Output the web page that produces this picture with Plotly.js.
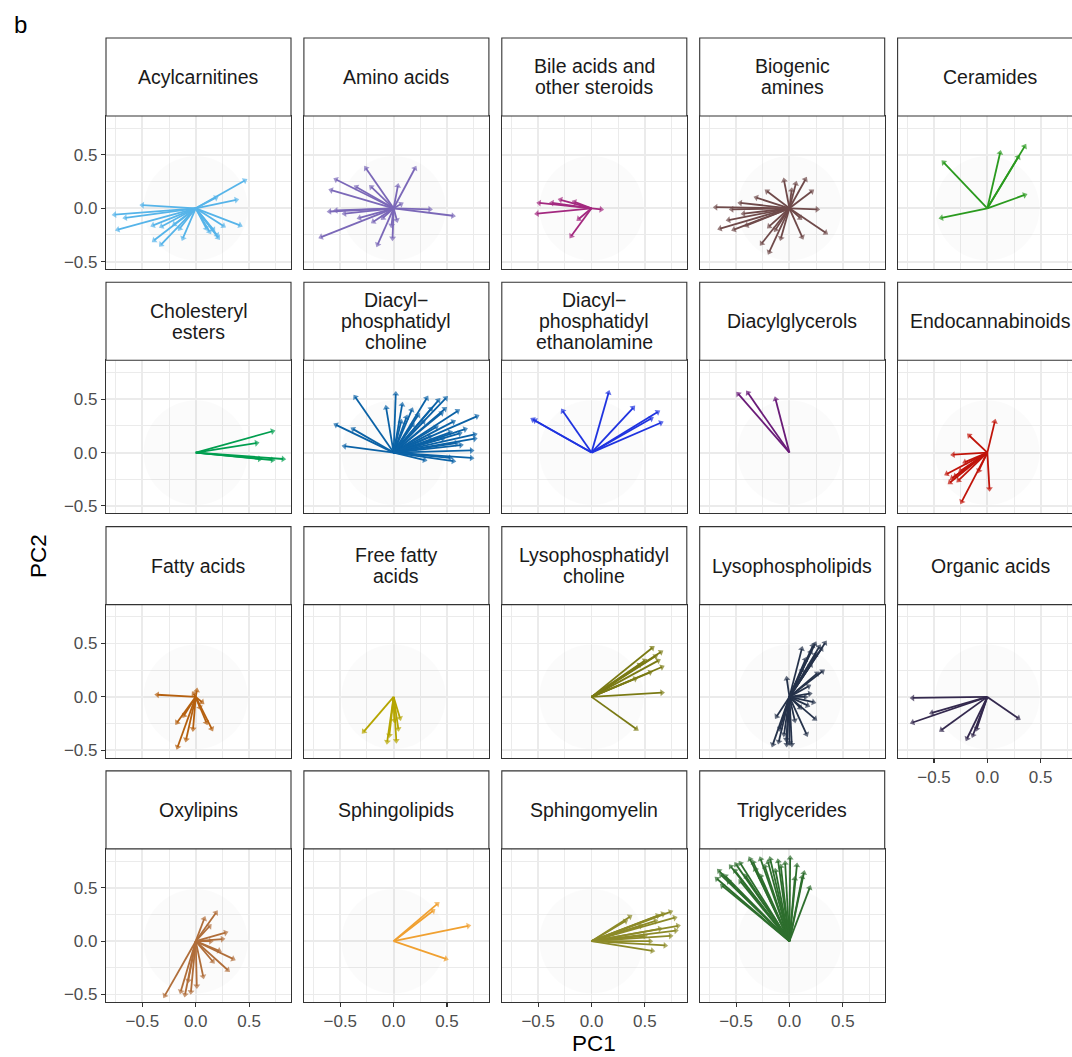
<!DOCTYPE html>
<html><head><meta charset="utf-8">
<script src="https://cdn.plot.ly/plotly-3.0.1.min.js"></script>
<style>html,body{margin:0;padding:0;overflow:hidden;background:#fff}#plot{width:1090px;height:1057px}</style>
</head><body><div id="plot"></div>
<script>
// ---------------- data ----------------
const stripLabels = ["Acylcarnitines","Amino acids","Bile acids and<br>other steroids","Biogenic<br>amines","Ceramides",
  "Cholesteryl<br>esters","Diacyl\u2212<br>phosphatidyl<br>choline","Diacyl\u2212<br>phosphatidyl<br>ethanolamine","Diacylglycerols","Endocannabinoids",
  "Fatty acids","Free fatty<br>acids","Lysophosphatidyl<br>choline","Lysophospholipids","Organic acids",
  "Oxylipins","Sphingolipids","Sphingomyelin","Triglycerides"];
const tickVals = [-0.5, 0, 0.5];
const tickText = ["\u22120.5", "0.0", "0.5"];

const acyl_pc1 = [0.46,0.38,0.19,-0.50,-0.76,-0.66,-0.73,-0.40,-0.32,-0.39,-0.325,-0.15,-0.12,0.26,0.415,0.10,0.13,0.20,0.21,0.165,-0.20];
const acyl_pc2 = [0.26,0.08,0.10,0.03,-0.06,-0.09,-0.20,-0.16,-0.17,-0.30,-0.34,-0.19,-0.28,-0.165,-0.16,-0.19,-0.22,-0.25,-0.275,-0.20,-0.15];
const amino_pc1 = [0.20,-0.26,-0.54,-0.585,-0.35,-0.21,0.04,0.07,-0.60,-0.54,-0.46,-0.32,-0.19,-0.68,-0.15,-0.01,-0.02,0.03,-0.10,0.34,0.556];
const amino_pc2 = [0.375,0.375,0.27,0.17,0.20,0.20,0.21,0.04,-0.03,-0.02,-0.05,-0.09,-0.125,-0.27,-0.34,-0.28,-0.16,-0.11,-0.09,-0.01,-0.07];
const bile_pc1 = [0.09,-0.49,-0.37,-0.29,-0.16,-0.51,-0.12,-0.19];
const bile_pc2 = [-0.01,0.05,0.05,0.08,0.06,-0.05,-0.10,-0.26];
const biog_pc1 = [-0.05,0.06,0.15,0.21,0.02,-0.21,-0.31,-0.46,-0.69,-0.54,-0.43,-0.57,-0.65,-0.52,-0.19,-0.26,-0.19,-0.08,0.12,0.34,0.10,0.26,-0.40,-0.13];
const biog_pc2 = [0.26,0.23,0.27,0.16,0.17,0.16,0.10,0.05,0.01,-0.01,-0.05,-0.11,-0.19,-0.20,-0.17,-0.33,-0.41,-0.28,-0.27,-0.23,-0.09,-0.01,-0.16,-0.20];
const cer_pc1 = [0.35,0.29,0.12,-0.41,0.35,-0.43];
const cer_pc2 = [0.58,0.48,0.52,0.43,0.125,-0.09];
const ce_pc1 = [0.72,0.57,0.60,0.72,0.82];
const ce_pc2 = [0.20,0.09,-0.06,-0.07,-0.06];
const pc_pc1 = [-0.36,0.02,-0.07,0.08,-0.54,-0.38,-0.46,0.17,0.12,0.31,0.42,0.49,0.35,0.48,0.45,0.60,0.78,0.56,0.67,0.62,0.76,0.76,0.63,0.73,0.73,0.56,0.53,0.29,0.23,0.28,0.40,0.53,0.46,0.18,0.07,0.34,0.59];
const pc_pc2 = [0.52,0.55,0.42,0.45,0.26,0.22,0.06,0.40,0.33,0.51,0.49,0.51,0.41,0.41,0.37,0.39,0.34,0.29,0.22,0.18,0.17,0.13,0.07,0.02,-0.05,-0.08,-0.05,-0.07,0.35,0.29,0.24,0.19,0.13,0.26,0.29,0.15,0.09];
const pe_pc1 = [0.16,-0.27,-0.55,-0.53,0.39,0.62,0.56,0.65];
const pe_pc2 = [0.56,0.39,0.31,0.30,0.42,0.38,0.32,0.28];
const dag_pc1 = [-0.48,-0.39,-0.13];
const dag_pc2 = [0.55,0.56,0.50];
const endo_pc1 = [0.07,-0.17,-0.32,-0.21,-0.38,-0.35,-0.33,-0.27,-0.24,-0.08,0.02,-0.25,-0.30];
const endo_pc2 = [0.29,0.16,-0.02,-0.09,-0.20,-0.28,-0.24,-0.26,-0.46,-0.17,-0.34,-0.17,-0.22];
const fa_pc1 = [-0.36,0.01,-0.02,-0.17,-0.09,0.15,0.10,-0.11,-0.175,-0.025,0.04,0.06];
const fa_pc2 = [0.02,0.06,0.03,-0.47,-0.40,-0.30,-0.24,-0.175,-0.24,-0.30,-0.10,-0.05];
const ffa_pc1 = [-0.28,-0.06,-0.04,0.044,0.006,0.06,0.025];
const ffa_pc2 = [-0.325,-0.42,-0.36,-0.30,-0.22,-0.20,-0.41];
const lpc_pc1 = [0.57,0.65,0.625,0.66,0.50,0.55,0.66,0.42,0.41,0.60,0.45];
const lpc_pc2 = [0.46,0.42,0.34,0.28,0.34,0.23,0.04,-0.30,0.17,0.38,0.30];
const lpl_pc1 = [0.334,0.24,0.116,0.31,0.26,-0.025,0.19,0.225,0.24,0.16,-0.12,-0.156,-0.025,0.022,0.05,0.28,0.20,0.15,0.18,0.15,0.10,-0.03,0.00,-0.09,0.12,0.20,0.25,0.17,0.30,0.22,-0.10,-0.05];
const lpl_pc2 = [0.506,0.497,0.45,0.24,0.22,0.17,0.03,-0.05,-0.206,-0.35,-0.184,-0.447,-0.447,-0.447,-0.22,0.47,0.42,0.35,0.10,0.00,-0.10,-0.40,-0.43,-0.30,0.25,0.30,0.40,-0.08,0.45,0.48,-0.42,-0.35];
const oa_pc1 = [-0.70,-0.70,-0.52,-0.43,-0.19,-0.135,-0.10,0.29];
const oa_pc2 = [-0.01,-0.24,-0.15,-0.31,-0.39,-0.36,-0.30,-0.20];
const oxy_pc1 = [0.19,-0.29,-0.10,-0.045,0.28,0.35,0.30,0.22,0.14,0.25,0.08,0.13,0.16,0.07,0.01,-0.07,-0.14];
const oxy_pc2 = [0.266,-0.51,-0.50,-0.475,0.08,-0.166,-0.27,-0.09,0.00,0.02,0.21,0.14,-0.19,-0.33,-0.42,-0.37,-0.47];
const sl_pc1 = [0.41,0.37,0.70,0.49];
const sl_pc2 = [0.35,0.285,0.144,-0.166];
const sm_pc1 = [0.74,0.67,0.81,0.79,0.57,0.36,0.60,0.64,0.50,0.74,0.46,0.32,0.55,0.69,0.78,0.62];
const sm_pc2 = [0.275,0.256,0.144,0.10,-0.09,0.23,0.19,0.116,0.05,0.05,0.144,0.19,0.00,-0.04,0.22,0.24];
const tg_pc1 = [-0.68,-0.66,-0.63,-0.55,-0.46,-0.37,-0.27,-0.18,-0.106,0.007,0.07,0.136,0.19,-0.60,-0.51,-0.41,-0.32,-0.23,-0.13,-0.04,0.05,-0.57,-0.46,-0.27,-0.64,-0.50,-0.34,-0.20,-0.08,0.12];
const tg_pc2 = [0.585,0.66,0.52,0.70,0.73,0.77,0.77,0.77,0.75,0.78,0.71,0.64,0.50,0.61,0.66,0.61,0.675,0.70,0.66,0.73,0.585,0.56,0.56,0.61,0.62,0.72,0.74,0.74,0.70,0.60];

const pc1Data = [acyl_pc1,amino_pc1,bile_pc1,biog_pc1,cer_pc1,ce_pc1,pc_pc1,pe_pc1,dag_pc1,endo_pc1,fa_pc1,ffa_pc1,lpc_pc1,lpl_pc1,oa_pc1,oxy_pc1,sl_pc1,sm_pc1,tg_pc1];
const pc2Data = [acyl_pc2,amino_pc2,bile_pc2,biog_pc2,cer_pc2,ce_pc2,pc_pc2,pe_pc2,dag_pc2,endo_pc2,fa_pc2,ffa_pc2,lpc_pc2,lpl_pc2,oa_pc2,oxy_pc2,sl_pc2,sm_pc2,tg_pc2];
const classColors = ['#56B4E9','#7B68B8','#A3287F','#6F4A4A','#2A9A1E','#009E4F','#0B62A6','#1F33E0','#6A1B78','#C0140A','#B5600F','#B5A500','#7A7A14','#25324A','#34294E','#B06E3A','#F0A030','#8C8A28','#2D6E2D'];

// ---------------- layout geometry ----------------
const W = 1090, H = 1057;
const colLeft0 = 106, colStep = 197.9, panelW = 185;
const rowTop0 = 116, rowStep = 244.3, panelH = 153, stripH = 78;
const xRange = [-0.841, 0.893], yRange = [-0.569, 0.865];
const FONT = 'Liberation Sans, Arial, sans-serif';
const STRIP_SIZE = 19.5, STRIP_LINE = 21;
const px = v => v / W, py = v => 1 - v / H;

const data = [], shapes = [], annotations = [];
const layout = {
  width: W, height: H, margin: {l:0, r:0, t:0, b:0},
  paper_bgcolor: '#fff', plot_bgcolor: '#fff', showlegend: false,
  font: {family: FONT, size: 17, color: '#4D4D4D'}
};

for (let i = 0; i < stripLabels.length; i++) {
  const row = Math.floor(i / 5), col = i % 5;
  const L = colLeft0 + col * colStep, R = L + panelW;
  const T = rowTop0 + row * rowStep, B = T + panelH;
  const sfx = i === 0 ? '' : String(i + 1);
  const showY = col === 0;
  const showX = (row === 3) || (row === 2 && col === 4);
  layout['xaxis' + sfx] = {
    domain: [px(L), px(R)], anchor: 'y' + sfx, range: xRange,
    tickvals: tickVals, ticktext: tickText, showticklabels: showX,
    ticks: showX ? 'outside' : '', ticklen: 4, tickwidth: 1.1, tickcolor: '#333333',
    showgrid: true, gridcolor: '#EBEBEB', gridwidth: 1.9, zeroline: false,
    minor: {tickvals: [-0.75, -0.25, 0.25, 0.75], showgrid: true, gridcolor: '#EBEBEB', gridwidth: 1.0, ticks: ''},
    showline: true, mirror: true, linecolor: '#333333', linewidth: 1.1,
    tickfont: {size: 17, color: '#4D4D4D', family: FONT}, fixedrange: true
  };
  layout['yaxis' + sfx] = {
    domain: [py(B), py(T)], anchor: 'x' + sfx, range: yRange,
    tickvals: tickVals, ticktext: tickText, showticklabels: showY,
    ticks: showY ? 'outside' : '', ticklen: 4, tickwidth: 1.1, tickcolor: '#333333',
    showgrid: true, gridcolor: '#EBEBEB', gridwidth: 1.9, zeroline: false,
    minor: {tickvals: [-0.25, 0.25, 0.75], showgrid: true, gridcolor: '#EBEBEB', gridwidth: 1.0, ticks: ''},
    showline: true, mirror: true, linecolor: '#333333', linewidth: 1.1,
    tickfont: {size: 17, color: '#4D4D4D', family: FONT}, fixedrange: true
  };
  // faint circle
  shapes.push({type: 'circle', xref: 'x' + sfx, yref: 'y' + sfx, x0: -0.49, x1: 0.49, y0: -0.49, y1: 0.49,
    fillcolor: 'rgba(0,0,0,0.014)', line: {width: 0}, layer: 'between'});
  // strip
  const sT = T - stripH;
  shapes.push({type: 'rect', xref: 'paper', yref: 'paper', x0: px(L), x1: px(R), y0: py(T), y1: py(sT),
    fillcolor: '#FFFFFF', line: {color: '#333333', width: 1.1}, layer: 'above'});
  const lines = stripLabels[i].split('<br>');
  const cy = (sT + T) / 2;
  lines.forEach((ln, j) => {
    const yy = cy + (j - (lines.length - 1) / 2) * STRIP_LINE;
    annotations.push({xref: 'paper', yref: 'paper', x: px((L + R) / 2), y: py(yy),
      xanchor: 'center', yanchor: 'middle', text: ln, showarrow: false,
      font: {family: FONT, size: STRIP_SIZE, color: '#1A1A1A'}});
  });
  // arrows
  const xs = [], ys = [], sz = [];
  const a = pc1Data[i], b = pc2Data[i];
  for (let k = 0; k < a.length; k++) {
    xs.push(0, a[k], null); ys.push(0, b[k], null); sz.push(0, 6, 0);
  }
  data.push({type: 'scatter', mode: 'lines+markers', x: xs, y: ys, xaxis: 'x' + sfx, yaxis: 'y' + sfx,
    line: {color: classColors[i], width: 1.8}, hoverinfo: 'skip', cliponaxis: false,
    marker: {symbol: 'triangle-up', angleref: 'previous', size: sz, color: classColors[i], line: {width: 0}}});
}

annotations.push({xref: 'paper', yref: 'paper', x: px(12), y: py(25), xanchor: 'left', yanchor: 'middle',
  text: 'b', showarrow: false, font: {family: FONT, size: 24, color: '#000'}});
annotations.push({xref: 'paper', yref: 'paper', x: px(594), y: py(1043), xanchor: 'center', yanchor: 'middle',
  text: 'PC1', showarrow: false, font: {family: FONT, size: 22.5, color: '#000'}});
annotations.push({xref: 'paper', yref: 'paper', x: px(38), y: py(556), xanchor: 'center', yanchor: 'middle',
  text: 'PC2', showarrow: false, textangle: -90, font: {family: FONT, size: 22.5, color: '#000'}});

layout.shapes = shapes;
layout.annotations = annotations;
Plotly.newPlot('plot', data, layout, {displayModeBar: false, staticPlot: true});
</script></body></html>
